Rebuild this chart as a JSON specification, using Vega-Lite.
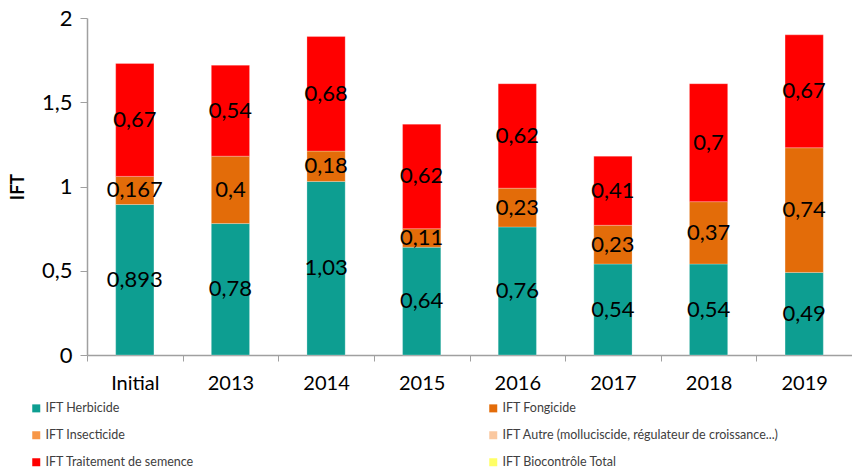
{
  "$schema": "https://vega.github.io/schema/vega-lite/v6.json",
  "autosize": {"type": "none"},
  "padding": {"left": 87, "top": 18, "right": 0, "bottom": 115},
  "width": 765,
  "height": 337,
  "config": {
    "locale": {"number": {"decimal": ",", "thousands": " ", "grouping": [3], "currency": ["", " €"]}},
    "view": {"stroke": null},
    "font": "Lato"
  },
  "data": {
    "values": [
      {"annee": "Initial", "type": "IFT Herbicide", "rang": 1, "v": 0.893},
      {"annee": "Initial", "type": "IFT Fongicide", "rang": 2, "v": 0.167},
      {"annee": "Initial", "type": "IFT Traitement de semence", "rang": 5, "v": 0.67},
      {"annee": "2013", "type": "IFT Herbicide", "rang": 1, "v": 0.78},
      {"annee": "2013", "type": "IFT Fongicide", "rang": 2, "v": 0.4},
      {"annee": "2013", "type": "IFT Traitement de semence", "rang": 5, "v": 0.54},
      {"annee": "2014", "type": "IFT Herbicide", "rang": 1, "v": 1.03},
      {"annee": "2014", "type": "IFT Fongicide", "rang": 2, "v": 0.18},
      {"annee": "2014", "type": "IFT Traitement de semence", "rang": 5, "v": 0.68},
      {"annee": "2015", "type": "IFT Herbicide", "rang": 1, "v": 0.64},
      {"annee": "2015", "type": "IFT Fongicide", "rang": 2, "v": 0.11},
      {"annee": "2015", "type": "IFT Traitement de semence", "rang": 5, "v": 0.62},
      {"annee": "2016", "type": "IFT Herbicide", "rang": 1, "v": 0.76},
      {"annee": "2016", "type": "IFT Fongicide", "rang": 2, "v": 0.23},
      {"annee": "2016", "type": "IFT Traitement de semence", "rang": 5, "v": 0.62},
      {"annee": "2017", "type": "IFT Herbicide", "rang": 1, "v": 0.54},
      {"annee": "2017", "type": "IFT Fongicide", "rang": 2, "v": 0.23},
      {"annee": "2017", "type": "IFT Traitement de semence", "rang": 5, "v": 0.41},
      {"annee": "2018", "type": "IFT Herbicide", "rang": 1, "v": 0.54},
      {"annee": "2018", "type": "IFT Fongicide", "rang": 2, "v": 0.37},
      {"annee": "2018", "type": "IFT Traitement de semence", "rang": 5, "v": 0.7},
      {"annee": "2019", "type": "IFT Herbicide", "rang": 1, "v": 0.49},
      {"annee": "2019", "type": "IFT Fongicide", "rang": 2, "v": 0.74},
      {"annee": "2019", "type": "IFT Traitement de semence", "rang": 5, "v": 0.67}
    ]
  },
  "encoding": {
    "x": {
      "field": "annee", "type": "nominal", "sort": null,
      "scale": {"paddingInner": 0, "paddingOuter": 0},
      "axis": {
        "title": null, "labelAngle": 0, "labelFontSize": 20, "labelColor": "#000000",
        "labelFont": "Lato", "labelPadding": 12, "tickBand": "extent",
        "domainColor": "#a0a0a0", "tickColor": "#a0a0a0", "tickSize": 6, "domainWidth": 1.5
      }
    },
    "y": {
      "field": "v", "type": "quantitative", "stack": "zero",
      "scale": {"domain": [0, 2], "nice": false},
      "axis": {
        "title": "IFT", "titleFontSize": 18, "titleFontWeight": "bold", "titleColor": "#000000",
        "titlePadding": 14, "values": [0, 0.5, 1, 1.5, 2], "grid": false, "format": "~g",
        "labelFontSize": 22, "labelColor": "#000000", "labelPadding": 8,
        "domainColor": "#a0a0a0", "tickColor": "#a0a0a0", "tickSize": 7, "domainWidth": 1.5
      }
    },
    "order": {"field": "rang", "type": "quantitative", "sort": "ascending"}
  },
  "layer": [
    {
      "mark": {"type": "bar", "width": {"band": 0.4}, "stroke": "#ffffff", "strokeWidth": 0.5, "strokeOpacity": 0.5},
      "encoding": {
        "color": {
          "field": "type", "type": "nominal",
          "scale": {
            "domain": ["IFT Herbicide", "IFT Insecticide", "IFT Traitement de semence", "IFT Fongicide", "IFT Autre (molluciscide, régulateur de croissance...)", "IFT Biocontrôle Total"],
            "range": ["#0D9E91", "#F79646", "#FF0000", "#E36C09", "#FAC8A0", "#FFFF66"]
          },
          "legend": {
            "title": null, "orient": "none", "legendX": -57, "legendY": 384,
            "columns": 2, "columnPadding": 165, "rowPadding": 14, "gridAlign": "all",
            "symbolType": "square", "symbolSize": 64, "symbolStrokeWidth": 0,
            "labelFontSize": 12.5, "labelColor": "#404040", "labelOffset": 3, "labelLimit": 400
          }
        }
      }
    },
    {
      "mark": {"type": "text", "fontSize": 22, "color": "#000000", "font": "Lato"},
      "encoding": {
        "y": {"field": "v", "type": "quantitative", "stack": "zero", "bandPosition": 0.5},
        "detail": {"field": "type"},
        "text": {"field": "v", "type": "quantitative"}
      }
    }
  ]
}
